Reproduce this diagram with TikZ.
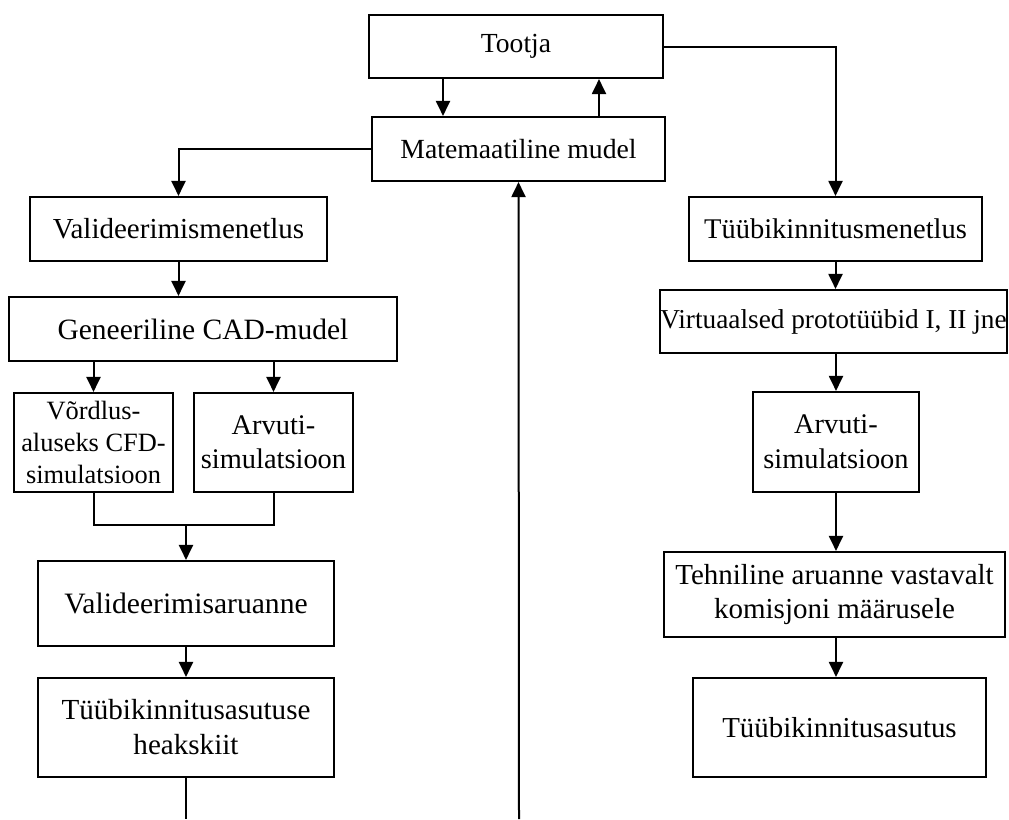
\documentclass[tikz,border=0pt]{standalone}
\usepackage{fontspec}
\setmainfont{Liberation Serif}
\usetikzlibrary{positioning}
\usetikzlibrary{arrows.meta}

\begin{document}
\begin{tikzpicture}[
x=1pt, y=-1pt,
stagenode/.style={rectangle, draw=black, line width=2.1pt, inner sep=1pt, align=center},
textsize/.style 2 args={font=\fontsize{#1}{#2}\selectfont},
flowline/.style={line width=2pt},
flowarrow/.style={line width=2pt, -{Triangle[length=15pt, width=14pt]}},
]
\useasboundingbox (0,0) rectangle (1009,819);

%Nodes
\node[stagenode, minimum width=294pt, minimum height=63pt, textsize={27.6}{34}]	(tootja)		at (516,46.5)		{Tootja};
\node[stagenode, minimum width=293pt, minimum height=64pt, textsize={27.7}{34}]	(matmudel)		at (518.5,149)		{Matemaatiline mudel};
\node[stagenode, minimum width=297pt, minimum height=64pt, textsize={29}{34}]	(valmenetlus)	at (178.5,229)		{Valideerimismenetlus};
\node[stagenode, minimum width=293pt, minimum height=64pt, textsize={28.5}{34}]	(tyybmenetlus)	at (835.5,229)		{Tüübikinnitusmenetlus};
\node[stagenode, minimum width=388pt, minimum height=64pt, textsize={29.5}{34}]	(cadmudel)		at (203,329)		{Geneeriline CAD-mudel};
\node[stagenode, minimum width=344pt, minimum height=63pt, inner xsep=0pt, textsize={27.3}{34}]	(virtproto)		at (833.5,321.5)	{Virtuaalsed prototüübid I, II jne};
\node[stagenode, minimum width=159pt, minimum height=99pt, textsize={26.4}{32}]	(vordlus)		at (93.5,442.5)		{Võrdlus-\\aluseks CFD-\\simulatsioon};
\node[stagenode, minimum width=159pt, minimum height=99pt, textsize={28.4}{34}]	(arvsimL)		at (273.5,442.5)	{Arvuti-\\simulatsioon};
\node[stagenode, minimum width=166pt, minimum height=100pt, textsize={28.4}{35}]	(arvsimR)		at (836,442)		{Arvuti-\\simulatsioon};
\node[stagenode, minimum width=296pt, minimum height=85pt, textsize={29.6}{34}]	(valaruanne)	at (186,603.5)		{Valideerimisaruanne};
\node[stagenode, minimum width=341pt, minimum height=85pt, textsize={29}{34}]	(tehaaruanne)	at (834.5,594.5)	{Tehniline aruanne vastavalt\\komisjoni määrusele};
\node[stagenode, minimum width=296pt, minimum height=99pt, textsize={29.1}{35}]	(heakskiit)		at (186,727.5)		{Tüübikinnitusasutuse\\heakskiit};
\node[stagenode, minimum width=293pt, minimum height=99pt, textsize={28.9}{34}]	(tyybasutus)	at (839.5,727.5)	{Tüübikinnitusasutus};
\coordinate	(merge)		at (186,525);
\coordinate	(bottomL)	at (186,819);
\coordinate	(bottomM)	at (519,819);

%Lines
\draw[flowarrow] ([xshift=-73pt]tootja.south) -- ([xshift=-73pt]tootja.south |- matmudel.north);
\draw[flowarrow] ([xshift=80.5pt]matmudel.north) -- ([xshift=80.5pt]matmudel.north |- tootja.south);
\draw[flowarrow] (matmudel.west) -| (valmenetlus.north);
\draw[flowarrow] (tootja.east) -| (tyybmenetlus.north);
\draw[flowarrow] (valmenetlus.south) -- (valmenetlus.south |- cadmudel.north);
\draw[flowarrow] (vordlus.north |- cadmudel.south) -- (vordlus.north);
\draw[flowarrow] (arvsimL.north |- cadmudel.south) -- (arvsimL.north);
\draw[flowline] (vordlus.south) |- (merge) -| (arvsimL.south);
\draw[flowarrow] (merge) -- (valaruanne.north);
\draw[flowarrow] (valaruanne.south) -- (heakskiit.north);
\draw[flowline] (heakskiit.south) -- (bottomL);
\draw[flowarrow] (bottomM) -- (matmudel.south);
\draw[flowarrow] (tyybmenetlus.south) -- (tyybmenetlus.south |- virtproto.north);
\draw[flowarrow] (arvsimR.north |- virtproto.south) -- (arvsimR.north);
\draw[flowarrow] (arvsimR.south) -- (arvsimR.south |- tehaaruanne.north);
\draw[flowarrow] (tehaaruanne.south -| arvsimR.south) -- (arvsimR.south |- tyybasutus.north);
\end{tikzpicture}
\end{document}
